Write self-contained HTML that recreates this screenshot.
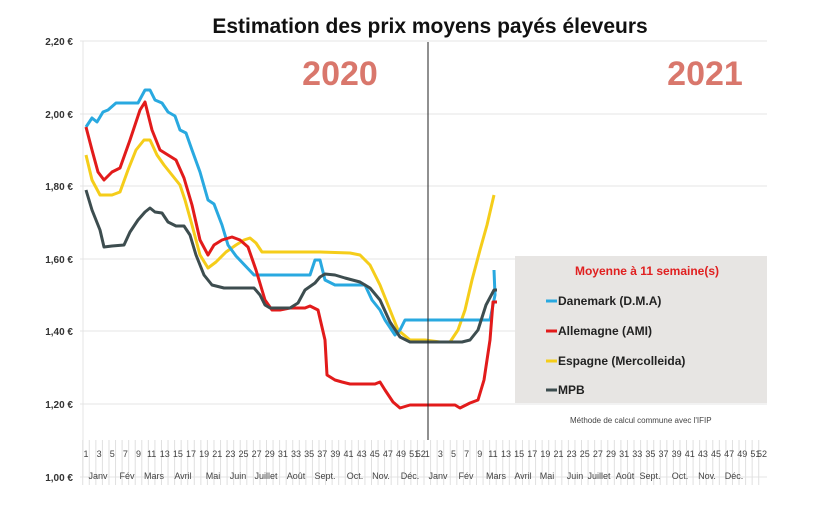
<!DOCTYPE html>
<html><head><meta charset="utf-8"><style>
body{margin:0;background:#fff;width:820px;height:508px;overflow:hidden;font-family:"Liberation Sans",sans-serif}
</style></head><body>
<svg id="s" width="820" height="508" xmlns="http://www.w3.org/2000/svg" font-family="Liberation Sans, sans-serif">
<rect width="820" height="508" fill="#fff"/>
<g stroke="#e4e4e4" stroke-width="1">
<line x1="80" x2="767" y1="41" y2="41"/><line x1="80" x2="767" y1="114" y2="114"/>
<line x1="80" x2="767" y1="186" y2="186"/><line x1="80" x2="767" y1="259" y2="259"/>
<line x1="80" x2="767" y1="331" y2="331"/><line x1="80" x2="767" y1="404" y2="404"/>
<line x1="80" x2="767" y1="477" y2="477"/><line x1="83" x2="83" y1="41" y2="477"/>
</g>
<g id="grid" stroke="#e0e0e0" stroke-width="1"></g>
<g font-size="10" font-weight="bold" fill="#333" text-anchor="end">
<text x="73" y="45">2,20 €</text><text x="73" y="118">2,00 €</text><text x="73" y="190">1,80 €</text>
<text x="73" y="263">1,60 €</text><text x="73" y="335">1,40 €</text><text x="73" y="408">1,20 €</text>
<text x="73" y="481">1,00 €</text></g>
<text x="430" y="33" font-size="21" font-weight="bold" text-anchor="middle" fill="#111">Estimation des prix moyens payés éleveurs</text>
<text x="340" y="85" font-size="34" font-weight="bold" text-anchor="middle" fill="#d9776c">2020</text>
<text x="705" y="85" font-size="34" font-weight="bold" text-anchor="middle" fill="#d9776c">2021</text>
<rect x="515" y="256" width="252" height="147" fill="#e7e5e3"/>
<text x="647" y="275" font-size="12" font-weight="bold" fill="#e02020" text-anchor="middle">Moyenne à  11 semaine(s)</text>
<g font-size="12" font-weight="bold" fill="#222">
<line x1="546" x2="557" y1="301" y2="301" stroke="#29a9e0" stroke-width="3"/><text x="558" y="305">Danemark (D.M.A)</text>
<line x1="546" x2="557" y1="331" y2="331" stroke="#e21b1b" stroke-width="3"/><text x="558" y="335">Allemagne (AMI)</text>
<line x1="546" x2="557" y1="361" y2="361" stroke="#f5cd1a" stroke-width="3"/><text x="558" y="365">Espagne (Mercolleida)</text>
<line x1="546" x2="557" y1="390" y2="390" stroke="#3d4d4f" stroke-width="3"/><text x="558" y="394">MPB</text>
</g>
<text x="570" y="423" font-size="8" fill="#444">Méthode de calcul commune avec l'IFIP</text>
<g fill="none" stroke-width="3" stroke-linejoin="round">
<polyline stroke="#f5cd1a" points="86,155 92,180 100,195 112,195 120,192 128,170 136,150 144,140 150,140 157,155 164,165 172,175 180,185 185,200 192,225 200,255 208,268 216,262 226,252 236,245 244,240 250,238 256,243 262,252 300,252 320,252 350,253 360,255 370,265 380,285 390,310 398,330 410,340 425,340 440,342 450,342 458,330 465,310 472,280 480,250 487,225 494,195"/>
<polyline stroke="#29a9e0" points="86,127 92,118 97,122 103,112 108,110 116,103 138,103 145,90 150,90 155,100 162,103 168,112 175,116 180,130 186,133 192,150 200,172 208,200 214,204 222,225 228,245 236,256 254,275 310,275 315,260 320,260 325,280 335,285 365,285 372,300 380,310 385,320 395,335 400,330 405,320 480,320 490,320 495,295 494,270"/>
<polyline stroke="#e21b1b" points="86,127 92,150 98,172 104,180 112,172 120,168 130,140 140,110 145,102 152,130 160,150 168,155 176,160 184,178 192,205 200,240 208,255 214,245 222,240 232,237 240,240 248,247 256,270 265,300 272,310 280,310 290,308 305,308 310,306 318,310 325,340 327,375 335,380 342,382 350,384 375,384 380,382 385,390 393,402 400,408 410,405 455,405 460,408 470,403 478,400 484,380 490,340 493,302 497,302"/>
<polyline stroke="#3d4d4f" points="86,190 92,210 100,230 104,247 112,246 124,245 130,232 138,220 145,212 150,208 155,212 162,213 168,222 176,226 184,226 190,235 196,255 204,275 212,285 224,288 254,288 260,295 265,305 270,308 290,308 298,303 305,290 315,283 320,277 325,274 335,275 345,278 360,282 370,288 380,300 390,322 400,337 410,342 462,342 470,340 478,330 486,305 494,290 497,290"/>
</g>
<line x1="428" x2="428" y1="42" y2="440" stroke="#222" stroke-width="1"/>
<g id="wk" font-size="9" fill="#444" text-anchor="middle"></g>
<g id="mo" font-size="9" fill="#444" text-anchor="middle"></g>
</svg>
<script>
var ns="http://www.w3.org/2000/svg",g=document.getElementById('grid'),wk=document.getElementById('wk'),mo=document.getElementById('mo');
var st=(762-86)/103;
for(var i=0;i<104;i++){var x=86+i*st;
var l=document.createElementNS(ns,'line');l.setAttribute('x1',x-st/2);l.setAttribute('x2',x-st/2);l.setAttribute('y1',440);l.setAttribute('y2',485);g.appendChild(l);
var w=(i%52)+1;if(w%2==1||w==52){var t=document.createElementNS(ns,'text');t.setAttribute('x',x);t.setAttribute('y',457);t.textContent=w;wk.appendChild(t);}}
var m=[["Janv",98],["Fév",127],["Mars",154],["Avril",183],["Mai",213],["Juin",238],["Juillet",266],["Août",296],["Sept.",325],["Oct.",355],["Nov.",381],["Déc.",410],["Janv",438],["Fév",466],["Mars",496],["Avril",523],["Mai",547],["Juin",575],["Juillet",599],["Août",625],["Sept.",650],["Oct.",680],["Nov.",707],["Déc.",734]];
m.forEach(function(a){var t=document.createElementNS(ns,'text');t.setAttribute('x',a[1]);t.setAttribute('y',479);t.textContent=a[0];mo.appendChild(t);});
</script>
</body></html>
